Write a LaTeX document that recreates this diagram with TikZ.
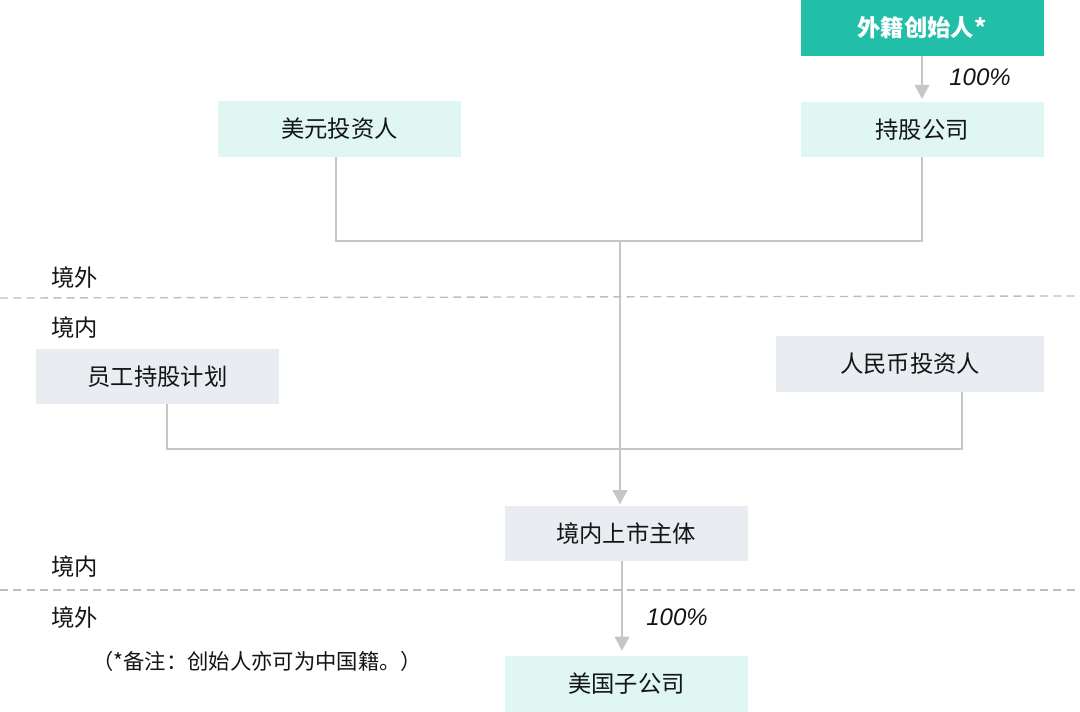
\documentclass[tikz,border=0pt]{standalone}
\usepackage{fontspec}
\setmainfont{Liberation Sans}
\newfontfamily\cjk{Noto Sans CJK SC}
\usetikzlibrary{arrows.meta}
\definecolor{teal1}{HTML}{22BFA8}
\definecolor{lightteal}{HTML}{DFF6F3}
\definecolor{lightgray}{HTML}{E9ECF1}
\definecolor{linegray}{HTML}{C6C6C6}
\definecolor{dashgray}{HTML}{BDBDBD}
\definecolor{txt}{HTML}{141414}
\begin{document}
\begin{tikzpicture}[x=0.75pt,y=-0.75pt,
  box/.style={draw=none,inner sep=0pt,minimum width=182.25pt,minimum height=41.5pt,text=txt,font=\cjk\fontsize{17.5}{20}\selectfont},
  tealbox/.style={box,fill=lightteal},
  graybox/.style={box,fill=lightgray},
  founderbox/.style={box,fill=teal1,text=white,font=\cjk\bfseries\fontsize{17.5}{20}\selectfont},
  conn/.style={draw=linegray,line width=1pt},
  arr/.style={conn,-{Triangle[width=11pt,length=10.5pt]}},
  pct/.style={font=\itshape\fontsize{18}{20}\selectfont,text=txt,inner sep=0pt},
  zone/.style={font=\cjk\fontsize{17.5}{20}\selectfont,text=txt,inner sep=0pt,anchor=west},
  divider/.style={draw=dashgray,line width=1pt,dash pattern=on 6pt off 4pt}
]
\useasboundingbox (0,0) rectangle (1080,712);

% boxes
\node[founderbox,minimum height=42pt] (founder) at (922,28) {外籍创始人*};
\node[tealbox] (hold) at (922,129.5) {持股公司};
\node[tealbox] (usd) at (339.5,129) {美元投资人};
\node[graybox] (esop) at (157.5,376.5) {员工持股计划};
\node[graybox,minimum width=201pt] (rmb) at (910,364) {人民币投资人};
\node[graybox] (listed) at (626,533.5) {境内上市主体};
\node[tealbox] (us) at (626.5,684) {美国子公司};

% coordinates
\coordinate (j1) at (620,241);
\coordinate (ul) at (336,241);
\coordinate (el) at (167,449);
\coordinate (rl) at (962,449);
\coordinate (ls) at (622,561);

% connectors
\draw[arr,shorten >=2pt] (founder.south) -- (hold.north);
\node[pct] (p1) at (980,77) {100\%};

\draw[conn] (usd.south -| ul) -- (ul) -- (j1) -| (hold.south);
\draw[conn] (esop.south -| el) -- (el) -- (rl) -- (rmb.south -| rl);
\draw[arr,shorten >=1pt] (j1) -- (listed.north -| j1);
\draw[arr,shorten >=4pt] (listed.south -| ls) -- (us.north -| ls);
\node[pct] (p2) at (677,617) {100\%};

% zones
\draw[divider] (0,298) -- (1080,296);
\draw[divider] (0,590) -- (1080,590);
\node[zone] (z1) at (51,278) {境外};
\node[zone] (z2) at (51,328) {境内};
\node[zone] (z3) at (51,567) {境内};
\node[zone] (z4) at (51,618) {境外};

\node[font=\cjk\fontsize{16}{20}\selectfont,text=txt,inner sep=0pt,anchor=west] (note) at (92,661) {（*备注：创始人亦可为中国籍。）};
\end{tikzpicture}
\end{document}
